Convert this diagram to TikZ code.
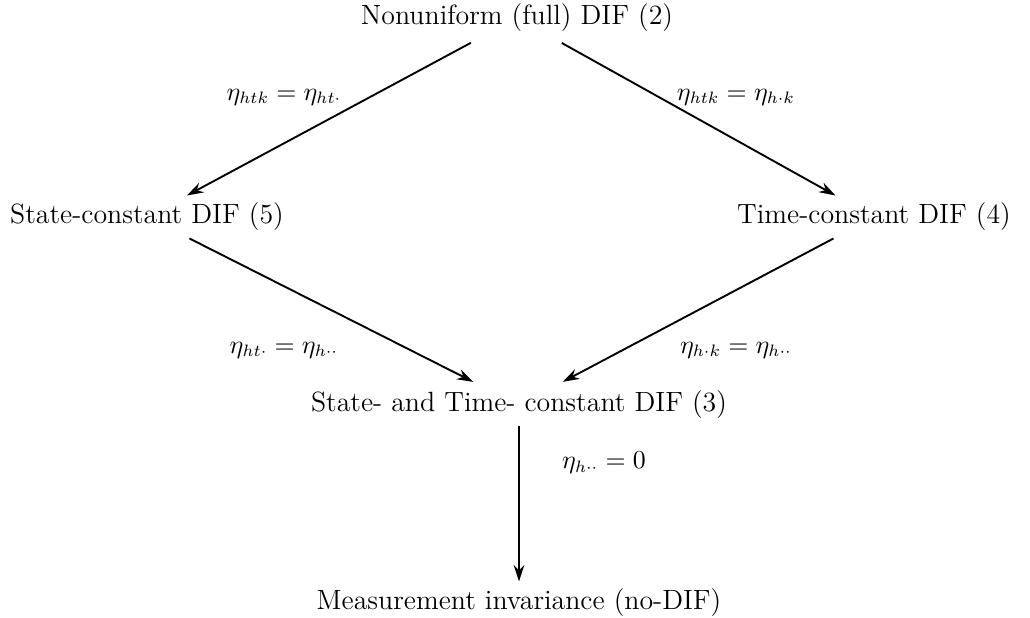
\documentclass[tikz,border=0pt]{standalone}
\usetikzlibrary{arrows.meta}
\tikzstyle{model} = [
    rectangle,
    inner sep=3pt,
    font=\fontsize{11.8pt}{14pt}\selectfont
]
\tikzstyle{cond} = [
    inner sep=1pt,
    font=\fontsize{10.6pt}{12pt}\selectfont
]
\tikzstyle{arrow} = [thick,-{Stealth[length=7pt,width=4.5pt]}]
\begin{document}
\begin{tikzpicture}[x=0.01489cm, y=-0.01489cm]
\useasboundingbox (0,0) rectangle (1030,618);

\node (full) [model] at (517,18) {Nonuniform (full) DIF (2)};

\node (state) [model] at (147,217) {State-constant DIF (5)};

\node (time) [model] at (874,217) {Time-constant DIF (4)};

\node (both) [model] at (519,405) {State- and Time- constant DIF (3)};

\node (noDIF) [model] at (519,603) {Measurement invariance (no-DIF)};

\coordinate (c1) at (284,97);
\coordinate (c2) at (736,97);
\coordinate (c3) at (284,350);
\coordinate (c4) at (736,350);
\coordinate (c5) at (604,463);

\draw [arrow, shorten <=3pt] (full) -- (state);
\draw [arrow, shorten <=3pt] (full) -- (time);
\draw [arrow, shorten >=1.5pt] (state) -- (both);
\draw [arrow, shorten >=1.5pt] (time) -- (both);
\draw [arrow] (both) -- (noDIF);

\node [cond] at (c1) {$\eta_{htk} = \eta_{ht\cdot}$};
\node [cond] at (c2) {$\eta_{htk} = \eta_{h\cdot k}$};
\node [cond] at (c3) {$\eta_{ht\cdot} = \eta_{h\cdot\cdot}$};
\node [cond] at (c4) {$\eta_{h\cdot k} = \eta_{h\cdot\cdot}$};
\node [cond] at (c5) {$\eta_{h\cdot\cdot} = 0$};

\end{tikzpicture}
\end{document}
